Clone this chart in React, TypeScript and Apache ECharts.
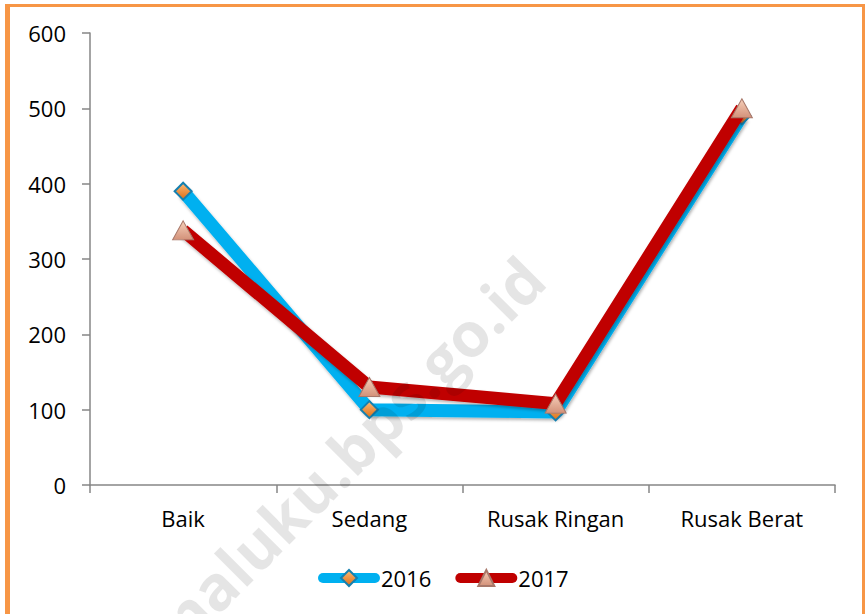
import React, { useEffect, useRef } from "react";
import * as echarts from "echarts";

const categories = ["Baik", "Sedang", "Rusak Ringan", "Rusak Berat"];
const series2016 = [390, 100, 97, 490];
const series2017 = [338, 130, 108, 500];
const yTicks = { min: 0, max: 600, interval: 100 };
const seriesNames = ["2016", "2017"];
const watermark = "maluku.bps.go.id";

const FONT = "'Open Sans', 'Noto Sans', sans-serif";

export default function App() {
  const ref = useRef<HTMLDivElement>(null);
  useEffect(() => {
    if (!ref.current) return;
    const chart = echarts.init(ref.current, null, { renderer: "svg" });
    const orange = "#F79646";
    const diamondFill = new echarts.graphic.LinearGradient(0, 0, 0, 1, [
      { offset: 0, color: "#FDBB78" },
      { offset: 1, color: "#DB6E16" },
    ]);
    const triFill = new echarts.graphic.LinearGradient(0, 0, 0, 1, [
      { offset: 0, color: "#F6D0BA" },
      { offset: 1, color: "#D39179" },
    ]);
    chart.setOption({
      animation: false,
      backgroundColor: "#ffffff",
      grid: { left: 90, right: 30, top: 33, bottom: 129, containLabel: false },
      xAxis: {
        type: "category",
        data: categories,
        boundaryGap: true,
        axisLine: { lineStyle: { color: "#868686", width: 1.5 } },
        axisTick: { show: true, length: 8, alignWithLabel: false, lineStyle: { color: "#868686", width: 1.5 } },
        axisLabel: { color: "#000", fontSize: 22, fontFamily: FONT, margin: 22, interval: 0 },
        splitLine: { show: false },
      },
      yAxis: {
        type: "value",
        min: yTicks.min,
        max: yTicks.max,
        interval: yTicks.interval,
        axisLine: { show: true, lineStyle: { color: "#868686", width: 1.5 } },
        axisTick: { show: true, length: 8, lineStyle: { color: "#868686", width: 1.5 } },
        axisLabel: { color: "#000", fontSize: 22, fontFamily: FONT, margin: 24 },
        splitLine: { show: false },
      },
      legend: {
        left: 318,
        top: 567,
        padding: 0,
        itemWidth: 52,
        itemHeight: 20,
        itemGap: 24,
        lineStyle: { width: 10, cap: "round", shadowBlur: 0 },
        textStyle: { color: "#000", fontSize: 22, fontFamily: FONT, padding: [0, 0, 0, 1] },
        data: seriesNames,
      },
      series: [
        {
          name: seriesNames[0],
          type: "line",
          data: series2016,
          symbol: "diamond",
          symbolSize: [17, 17],
          lineStyle: {
            color: "#00B0F0",
            width: 13,
            shadowColor: "rgba(0,0,0,0.3)",
            shadowBlur: 3,
            shadowOffsetX: 1,
            shadowOffsetY: 2,
          },
          itemStyle: { color: diamondFill, borderColor: "#1580B0", borderWidth: 2 },
          emphasis: { disabled: true },
          z: 2,
        },
        {
          name: seriesNames[1],
          type: "line",
          data: series2017,
          symbol: "triangle",
          symbolSize: [21, 19],
          lineStyle: {
            color: "#C00000",
            width: 13,
            shadowColor: "rgba(0,0,0,0.3)",
            shadowBlur: 3,
            shadowOffsetX: 1,
            shadowOffsetY: 2,
          },
          itemStyle: { color: triFill, borderColor: "#A8786A", borderWidth: 1 },
          emphasis: { disabled: true },
          z: 3,
        },
      ],
      graphic: [
        { type: "rect", left: 5, top: 4, shape: { width: 5, height: 620 }, style: { fill: orange }, z: 200 },
        { type: "rect", left: 5, top: 4, shape: { width: 860, height: 3 }, style: { fill: orange }, z: 200 },
        { type: "rect", left: 862, top: 4, shape: { width: 3, height: 620 }, style: { fill: orange }, z: 200 },
        {
          type: "text",
          x: 345,
          y: 455,
          rotation: Math.PI / 4,
          z: 150,
          silent: true,
          style: {
            text: watermark,
            fill: "rgba(0,0,0,0.1)",
            font: "bold 62px 'Open Sans', sans-serif",
            textAlign: "center",
            textVerticalAlign: "middle",
          },
        },
      ],
    });
    return () => chart.dispose();
  }, []);
  return (
    <div
      ref={ref}
      style={{ position: "absolute", left: 0, top: 0, width: 865, height: 614 }}
    />
  );
}
